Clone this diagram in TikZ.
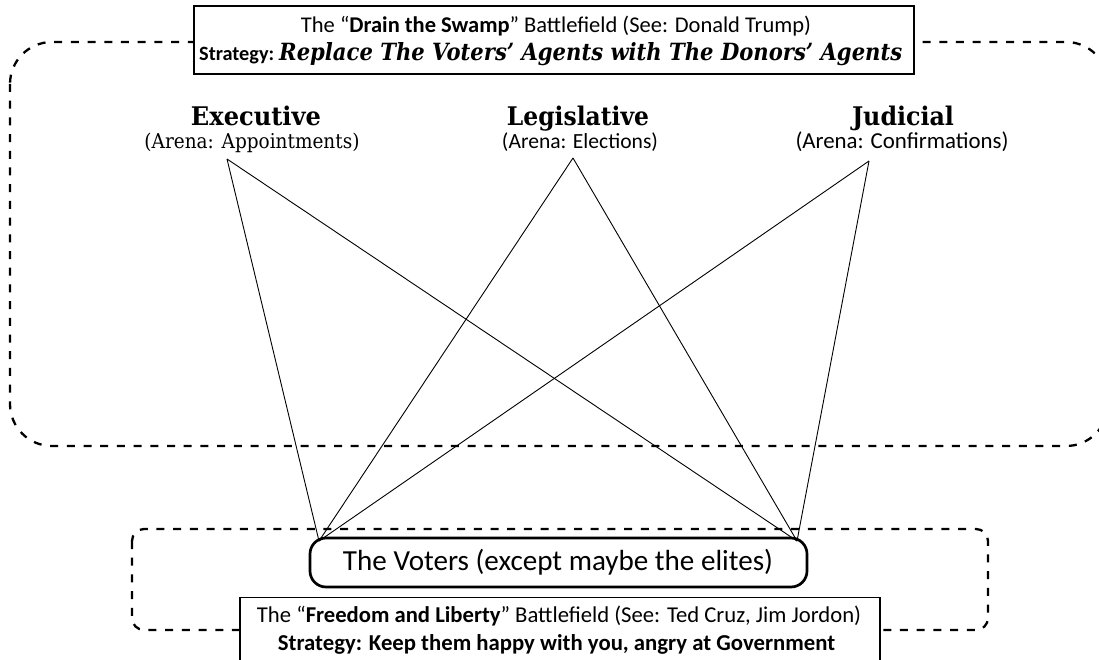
\documentclass[tikz,border=0pt]{standalone}
\usepackage{fontspec}
\usepackage{graphicx}
\setmainfont{Carlito}
\newfontfamily\serifc{DejaVu Serif}
\newcommand{\fitto}[2]{\resizebox{#1}{!}{#2}}
\newcommand{\fitwh}[3]{\resizebox{#1}{#2}{#3}}
\tikzset{
  zone/.style={dashed, line width=2.3pt, dash pattern=on 8pt off 8.7pt},
  plainbox/.style={draw, fill=white, line width=1.3pt, inner sep=0pt},
  link/.style={line width=0.9pt},
  txt/.style={anchor=base, inner sep=0pt},
}
\begin{document}
\begin{tikzpicture}[x=1pt,y=-1pt]
\useasboundingbox (0,0) rectangle (1099,660);
\clip (0,0) rectangle (1099,660);
\fill[white] (0,0) rectangle (1099,660);
% zones
\draw[zone, rounded corners=42pt] (10,42) rectangle (1108,446);
\draw[zone, rounded corners=12pt] (132,529) rectangle (988,630);
% branch labels
\node[txt] (exec) at (256,126) {\fitwh{130pt}{19.5pt}{\serifc\bfseries Executive}};
\node[txt] (execa) at (252,149) {\fitwh{215pt}{15.5pt}{\serifc (Arena: Appointments)}};
\node[txt] (leg) at (578,126) {\fitwh{142pt}{19.5pt}{\serifc\bfseries Legislative}};
\node[txt] (lega) at (580,149) {\fitto{156pt}{(Arena: Elections)}};
\node[txt] (jud) at (903,126) {\fitwh{102pt}{19.5pt}{\serifc\bfseries Judicial}};
\node[txt] (juda) at (902,149) {\fitto{213pt}{(Arena: Confirmations)}};
\coordinate (e) at (227,159);
\coordinate (l) at (573,158);
\coordinate (j) at (869,161);
% voters
\node[draw, fill=white, line width=2.7pt, rounded corners=16pt, minimum width=497pt, minimum height=49pt, inner sep=0pt] (voters) at (558.5,562.5) {};
\node[txt] (vtext) at (558,570) {\fitto{430pt}{The Voters (except maybe the elites)}};
\coordinate (vl) at (319,541);
\coordinate (vr) at (797,541);
\draw[link] (e) -- (vl);
\draw[link] (e) -- (vr);
\draw[link] (l) -- (vl);
\draw[link] (l) -- (vr);
\draw[link] (j) -- (vl);
\draw[link] (j) -- (vr);
% top box
\node[plainbox, minimum width=720pt, minimum height=68pt] (top) at (554,40) {};
\node[txt] (top1) at (556,33) {\fitto{510pt}{The “\textbf{Drain the Swamp}” Battlefield (See: Donald Trump)}};
\node[txt, anchor=base west] (top2a) at (199,61) {\fitto{75pt}{\bfseries Strategy:}};
\node[txt, anchor=base west] (top2b) at (279,61) {\fitwh{623pt}{18pt}{\serifc\bfseries\itshape Replace The Voters’ Agents with The Donors’ Agents}};
% bottom box
\node[plainbox, minimum width=640pt, minimum height=80pt, anchor=north] (bottom) at (560,597) {};
\node[txt] (bot1) at (559,622) {\fitto{604pt}{The “\textbf{Freedom and Liberty}” Battlefield (See: Ted Cruz, Jim Jordon)}};
\node[txt] (bot2) at (556.5,650) {\fitto{557pt}{\bfseries Strategy: Keep them happy with you, angry at Government}};
\end{tikzpicture}
\end{document}
